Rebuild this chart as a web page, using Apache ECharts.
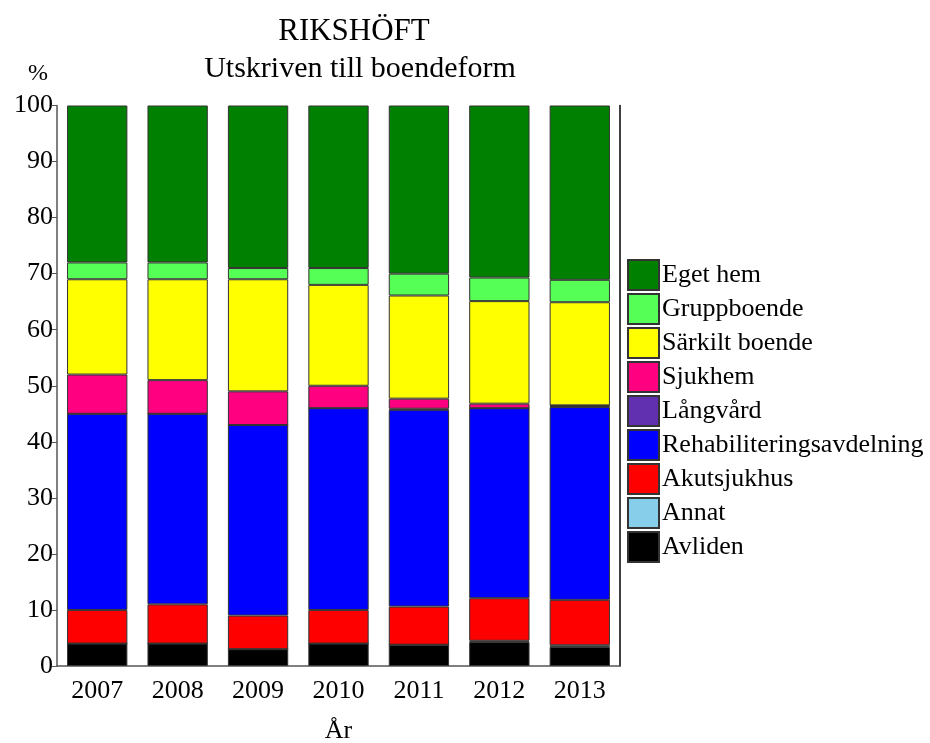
<!DOCTYPE html>
<html>
<head>
<meta charset="utf-8">
<script src="https://cdn.jsdelivr.net/npm/echarts@6/dist/echarts.min.js"></script>
<style>html,body{margin:0;padding:0;background:#fff}#c{width:930px;height:743px}</style>
</head>
<body>
<div id="c"></div>
<script>
const years = ['2007','2008','2009','2010','2011','2012','2013'];
const yTicks = [0,10,20,30,40,50,60,70,80,90,100];
const avliden   = [4, 4, 3, 4, 3.8, 4.3, 3.4];
const annat     = [0, 0, 0, 0, 0, 0.2, 0.3];
const akut      = [6, 7, 6, 6, 6.8, 7.6, 8.1];
const rehab     = [35, 34, 34, 36, 35.1, 33.9, 34.4];
const langvard  = [0, 0, 0, 0, 0.2, 0, 0.2];
const sjukhem   = [7, 6, 6, 4, 1.8, 0.8, 0.1];
const sarkilt   = [17, 18, 20, 18, 18.4, 18.3, 18.4];
const grupp     = [3, 3, 2, 3, 3.9, 4.2, 4.0];
const eget      = [28, 28, 29, 29, 30.0, 30.7, 31.1];

const seriesDefs = [
  ['Avliden', avliden, '#000000'],
  ['Annat', annat, '#87CEEB'],
  ['Akutsjukhus', akut, '#FF0000'],
  ['Rehabiliteringsavdelning', rehab, '#0000FF'],
  ['Långvård', langvard, '#6030B0'],
  ['Sjukhem', sjukhem, '#FF0080'],
  ['Särkilt boende', sarkilt, '#FFFF00'],
  ['Gruppboende', grupp, '#55FF55'],
  ['Eget hem', eget, '#008000']
];
const FONT = '"Liberation Serif", "Times New Roman", serif';
const chart = echarts.init(document.getElementById('c'), null, {renderer:'canvas'});
chart.setOption({
  animation: false,
  backgroundColor: '#fff',
  graphic: [
    {type:'text', x: 354, y: 16, style:{text:'RIKSHÖFT', font:'31px ' + FONT, fill:'#000', textAlign:'center'}},
    {type:'text', x: 360, y: 54, style:{text:'Utskriven till boendeform', font:'30px ' + FONT, fill:'#000', textAlign:'center'}},
    {type:'text', x: 28, y: 62, style:{text:'%', font:'24px ' + FONT, fill:'#000'}}
  ],
  legend: {
    orient: 'vertical',
    left: 627, top: 259, padding: 0,
    itemWidth: 31, itemHeight: 30, itemGap: 2,
    icon: 'rect',
    data: seriesDefs.map(d => d[0]).reverse(),
    textStyle: {fontFamily: FONT, fontSize: 26, color: '#000', padding: [12,0,0,-2]},
    selectedMode: false
  },
  grid: {left: 57, right: 310, top: 105.5, bottom: 77, containLabel: false, outerBoundsMode: 'none'},
  xAxis: {
    type: 'category', data: years,
    axisLine: {lineStyle: {color: '#555', width: 1.5}},
    axisTick: {show: false},
    axisLabel: {fontFamily: FONT, fontSize: 26, color: '#000', margin: 12},
    name: 'År', nameLocation: 'middle', nameGap: 52,
    nameTextStyle: {fontFamily: FONT, fontSize: 26, color: '#000'}
  },
  yAxis: [{
    type: 'value', min: 0, max: 100, interval: 10,
    axisLine: {show: true, lineStyle: {color: '#555', width: 1.5}},
    axisTick: {show: true, length: 5, lineStyle: {color: '#555'}},
    splitLine: {show: false},
    axisLabel: {fontFamily: FONT, fontSize: 26, color: '#000', margin: 4,
      formatter: v => yTicks.includes(v) ? String(v) : ''}
  }, {
    type: 'value', min: 0, max: 100, position: 'right',
    axisLine: {show: true, lineStyle: {color: '#000', width: 1.5}},
    axisTick: {show: false}, axisLabel: {show: false}, splitLine: {show: false}
  }],
  series: seriesDefs.map(([name, data, color]) => ({
    name, type: 'bar', stack: 'all', data,
    barCategoryGap: '25%',
    itemStyle: {color, borderColor: '#333', borderWidth: 1}
  }))
});
</script>
</body>
</html>
